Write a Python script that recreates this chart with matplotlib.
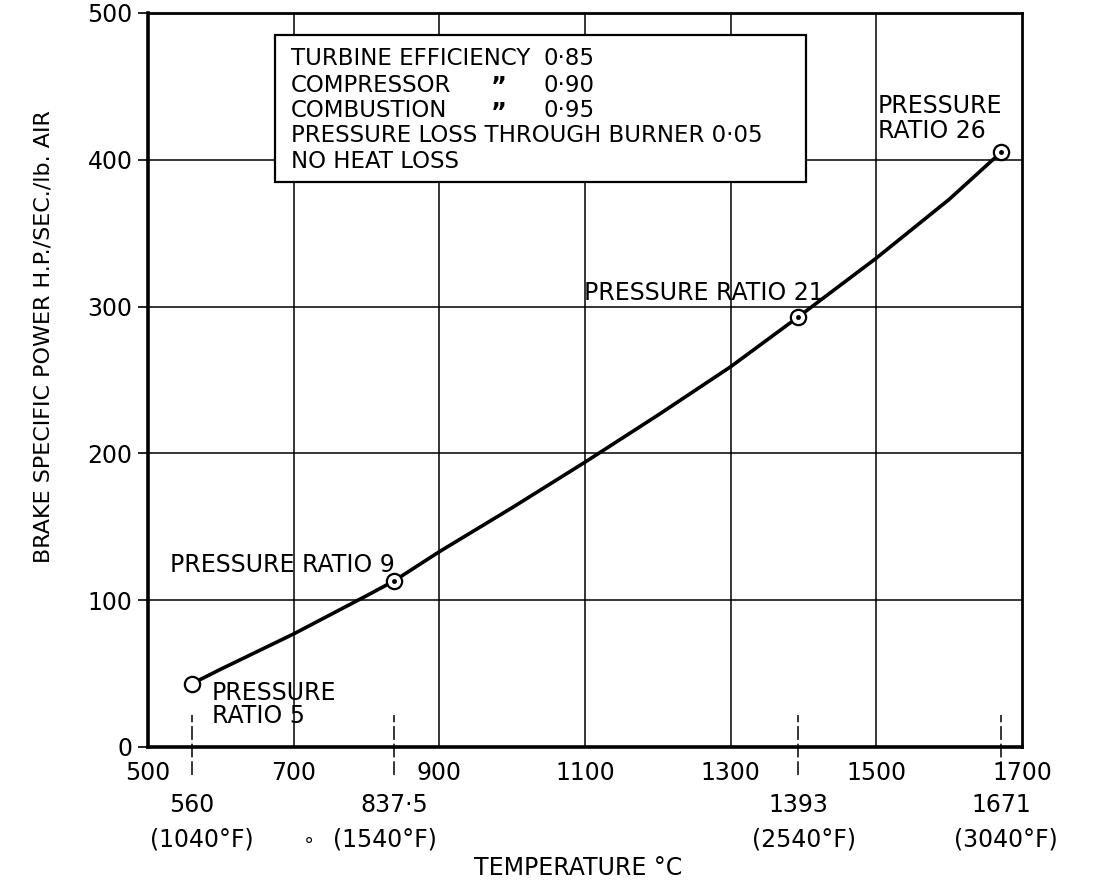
import matplotlib
matplotlib.use("Agg")
import matplotlib.pyplot as plt
from matplotlib.patches import Rectangle

# ---- data ----
temp_c = [560, 600, 700, 800, 837.5, 900, 1000, 1100, 1200, 1300, 1393, 1500, 1600, 1671]
power = [43, 53, 77, 103, 113, 133, 163, 194, 226, 259, 293, 333, 373, 405]

marker_temp = [560, 837.5, 1393, 1671]
marker_power = [43, 113, 293, 405]
marker_dot = [False, True, True, True]
marker_c_labels = ["560", "837·5", "1393", "1671"]
marker_f_labels = ["(1040°F)", "(1540°F)", "(2540°F)", "(3040°F)"]

x_ticks = [500, 700, 900, 1100, 1300, 1500, 1700]
x_tick_labels = ["500", "700", "900", "1100", "1300", "1500", "1700"]
y_ticks = [0, 100, 200, 300, 400, 500]
y_tick_labels = ["0", "100", "200", "300", "400", "500"]

note_names = ["TURBINE EFFICIENCY", "COMPRESSOR", "COMBUSTION",
              "PRESSURE LOSS THROUGH BURNER 0·05", "NO HEAT LOSS"]
note_ditto = ["", "”", "”", "", ""]
note_values = ["0·85", "0·90", "0·95", "", ""]

plt.rcParams['font.family'] = ['DejaVu Sans']
FS = 17

fig = plt.figure(figsize=(10.97, 8.82), dpi=100)
ax = fig.add_axes([0.1349, 0.1531, 0.7967, 0.8322])
ax.set_xlim(500, 1700)
ax.set_ylim(0, 500)

# grid
for gx in x_ticks[1:-1]:
    ax.axvline(gx, color='black', lw=1.1, zorder=1)
for gy in y_ticks[1:-1]:
    ax.axhline(gy, color='black', lw=1.1, zorder=1)

for side in ['left', 'bottom']:
    ax.spines[side].set_linewidth(2.6)
for side in ['top', 'right']:
    ax.spines[side].set_linewidth(2.0)

ax.set_xticks(x_ticks)
ax.set_xticklabels(x_tick_labels, fontsize=FS)
ax.set_yticks(y_ticks)
ax.set_yticklabels(y_tick_labels, fontsize=FS)
ax.tick_params(axis='x', length=0, pad=10)
ax.tick_params(axis='y', length=7, width=1.2, pad=4)

# curve
ax.plot(temp_c, power, color='black', lw=2.6, zorder=3, solid_capstyle='round',
        solid_joinstyle='round')
ax.plot(marker_temp, marker_power, linestyle='none', marker='o', markersize=11,
        markerfacecolor='white', markeredgecolor='black', markeredgewidth=1.6, zorder=4)
for t, p, d in zip(marker_temp, marker_power, marker_dot):
    if d:
        ax.plot([t], [p], marker='o', markersize=2.5, color='black', zorder=5)

# reference lines at the marker temperatures
for t in marker_temp:
    ax.plot([t, t], [-19, 22], color='black', lw=1.1, linestyle=(0, (9, 2.5)),
            clip_on=False, zorder=2)

xt = ax.get_xaxis_transform()
f_offsets = [14, -12, 8, 7]
for t, c, f, off in zip(marker_temp, marker_c_labels, marker_f_labels, f_offsets):
    ax.text(t, -0.079, c, transform=xt, ha='center', va='center', fontsize=FS)
    ax.text(t + off, -0.126, f, transform=xt, ha='center', va='center', fontsize=FS)
# small stray circle before (1540°F)
ax.text(marker_temp[1] - 116, -0.128, "∘", transform=xt, ha='center', va='center',
        fontsize=FS - 3)

ax.text(0.492, -0.165, "TEMPERATURE °C", transform=ax.transAxes, ha='center',
        va='center', fontsize=FS)
ax.text(-0.120, 0.559, "BRAKE SPECIFIC POWER H.P./SEC./lb. AIR", transform=ax.transAxes,
        rotation=90, ha='center', va='center', fontsize=16)

# annotation box
ax.add_patch(Rectangle((0.145, 0.770), 0.608, 0.200, transform=ax.transAxes,
                       facecolor='white', edgecolor='black', lw=1.6, zorder=6))
BFS = 16.5
ys = [0.929, 0.893, 0.858, 0.824, 0.789]
for y, n, d, v in zip(ys, note_names, note_ditto, note_values):
    ax.text(0.1636, y, n, transform=ax.transAxes, va='baseline', ha='left',
            fontsize=BFS, zorder=7)
    if d:
        ax.text(0.4016, y - 0.004, d, transform=ax.transAxes, va='baseline', ha='center',
                fontsize=BFS + 1, fontweight='bold', zorder=7)
    if v:
        ax.text(0.453, y, v, transform=ax.transAxes, va='baseline', ha='left',
                fontsize=BFS, zorder=7)

# pressure ratio labels
ax.text(0.025, 0.238, "PRESSURE RATIO 9", transform=ax.transAxes, va='baseline', fontsize=FS)
ax.text(0.073, 0.064, "PRESSURE", transform=ax.transAxes, va='baseline', fontsize=FS)
ax.text(0.073, 0.033, "RATIO 5", transform=ax.transAxes, va='baseline', fontsize=FS)
ax.text(0.499, 0.609, "PRESSURE RATIO 21", transform=ax.transAxes, va='baseline', fontsize=FS)
ax.text(0.835, 0.864, "PRESSURE", transform=ax.transAxes, va='baseline', fontsize=FS)
ax.text(0.835, 0.830, "RATIO 26", transform=ax.transAxes, va='baseline', fontsize=FS)

fig.savefig("out.png", dpi=100)
